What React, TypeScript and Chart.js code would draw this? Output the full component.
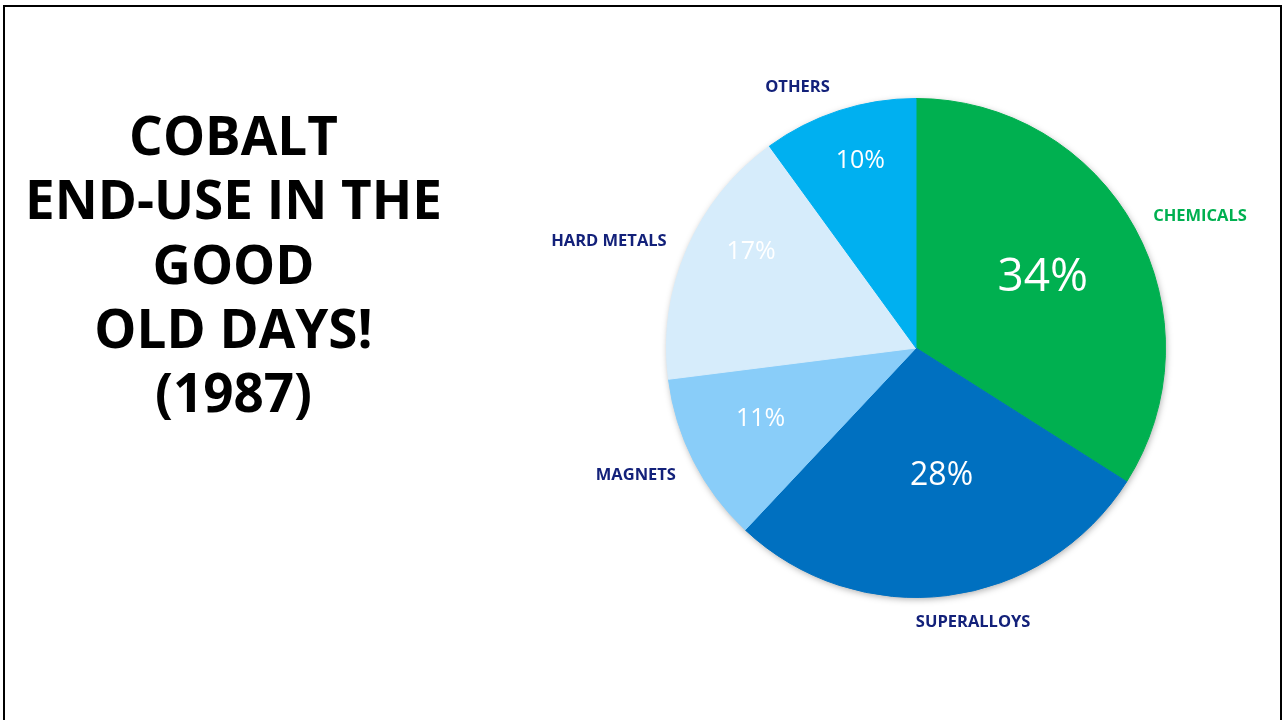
import React, { useEffect, useRef } from "react";
import { Chart, registerables } from "chart.js";

Chart.register(...registerables);

const categories = ["CHEMICALS", "SUPERALLOYS", "MAGNETS", "HARD METALS", "OTHERS"];
const shares = [34, 28, 11, 17, 10];
const sliceColors = ["#00B050", "#0070C0", "#89CDF9", "#D6ECFB", "#00B0F0"];
const nameColors = ["#00B050", "#13217A", "#13217A", "#13217A", "#13217A"];
const titleLines = ["COBALT", "END-USE IN THE", "GOOD", "OLD DAYS!", "(1987)"];

// label layout: [radius factor, angle offset in degrees]
const pctLayout: [number, number][] = [[0.59, -1.7], [0.51, -4.4], [0.68, 3.3], [0.77, 7.5], [0.79, 1.6]];
const pctSizes = [46, 32, 25, 25, 25];
const nameLayout: [number, number][] = [[1.256, 3.8], [1.12, -4.6], [1.232, 2.7], [1.304, -4.1], [1.15, -6.4]];

const labelPlugin = {
  id: "sliceLabels",
  beforeDatasetsDraw(chart: any) {
    const meta = chart.getDatasetMeta(0);
    const arc = meta.data[0];
    if (!arc) return;
    const { x, y, outerRadius } = arc.getProps(["x", "y", "outerRadius"], true);
    const ctx = chart.ctx;
    ctx.save();
    ctx.shadowColor = "rgba(0,0,0,0.35)";
    ctx.shadowBlur = 7;
    ctx.shadowOffsetX = 1;
    ctx.shadowOffsetY = 2;
    ctx.fillStyle = "#ffffff";
    ctx.beginPath();
    ctx.arc(x, y, outerRadius - 0.5, 0, Math.PI * 2);
    ctx.fill();
    ctx.restore();
  },
  afterDatasetsDraw(chart: any) {
    const ctx = chart.ctx;
    const meta = chart.getDatasetMeta(0);
    meta.data.forEach((el: any, i: number) => {
      const p = el.getProps(["x", "y", "startAngle", "endAngle", "outerRadius"], true);
      const mid = (p.startAngle + p.endAngle) / 2;
      const [rf, off] = pctLayout[i];
      const a = mid + (off * Math.PI) / 180;
      ctx.save();
      ctx.textAlign = "center";
      ctx.textBaseline = "middle";
      ctx.fillStyle = "#ffffff";
      ctx.font = `400 ${pctSizes[i]}px "Open Sans"`;
      ctx.fillText(
        shares[i] + "%",
        p.x + Math.cos(a) * p.outerRadius * rf,
        p.y + Math.sin(a) * p.outerRadius * rf + pctSizes[i] * 0.09
      );
      const [nf, noff] = nameLayout[i];
      const b = mid + (noff * Math.PI) / 180;
      ctx.fillStyle = nameColors[i];
      ctx.font = `700 16.5px "Open Sans"`;
      ctx.fillText(categories[i], p.x + Math.cos(b) * p.outerRadius * nf, p.y + Math.sin(b) * p.outerRadius * nf + 1);
      ctx.restore();
    });
  },
};

export default function App() {
  const ref = useRef<HTMLCanvasElement>(null);
  useEffect(() => {
    document.body.style.overflow = "hidden";
    const chart = new Chart(ref.current!, {
      type: "pie",
      data: {
        labels: categories,
        datasets: [
          {
            data: shares,
            backgroundColor: sliceColors,
            borderColor: sliceColors,
            borderWidth: 1,
          },
        ],
      },
      options: {
        responsive: false,
        animation: false,
        layout: { padding: { left: 666, right: 116, top: 98, bottom: 122 } },
        plugins: { legend: { display: false }, tooltip: { enabled: false } },
      },
      plugins: [labelPlugin],
    });
    return () => chart.destroy();
  }, []);
  return (
    <>
      <div
        style={{
          position: "absolute",
          left: 3,
          top: 5,
          width: 1279,
          height: 715,
          boxSizing: "border-box",
          border: "2px solid #000",
          borderBottom: "none",
        }}
      />
      <canvas ref={ref} width={1282} height={720} style={{ position: "absolute", left: 0, top: 0 }} />
      <div
        style={{
          position: "absolute",
          left: 0,
          top: 103,
          width: 467,
          textAlign: "center",
          fontFamily: '"Open Sans"',
          fontWeight: 700,
          fontSize: 53,
          lineHeight: "64.25px",
          color: "#000",
        }}
      >
        {titleLines.map((l, i) => (
          <div key={i} style={{ whiteSpace: "nowrap" }}>{l}</div>
        ))}
      </div>
    </>
  );
}
